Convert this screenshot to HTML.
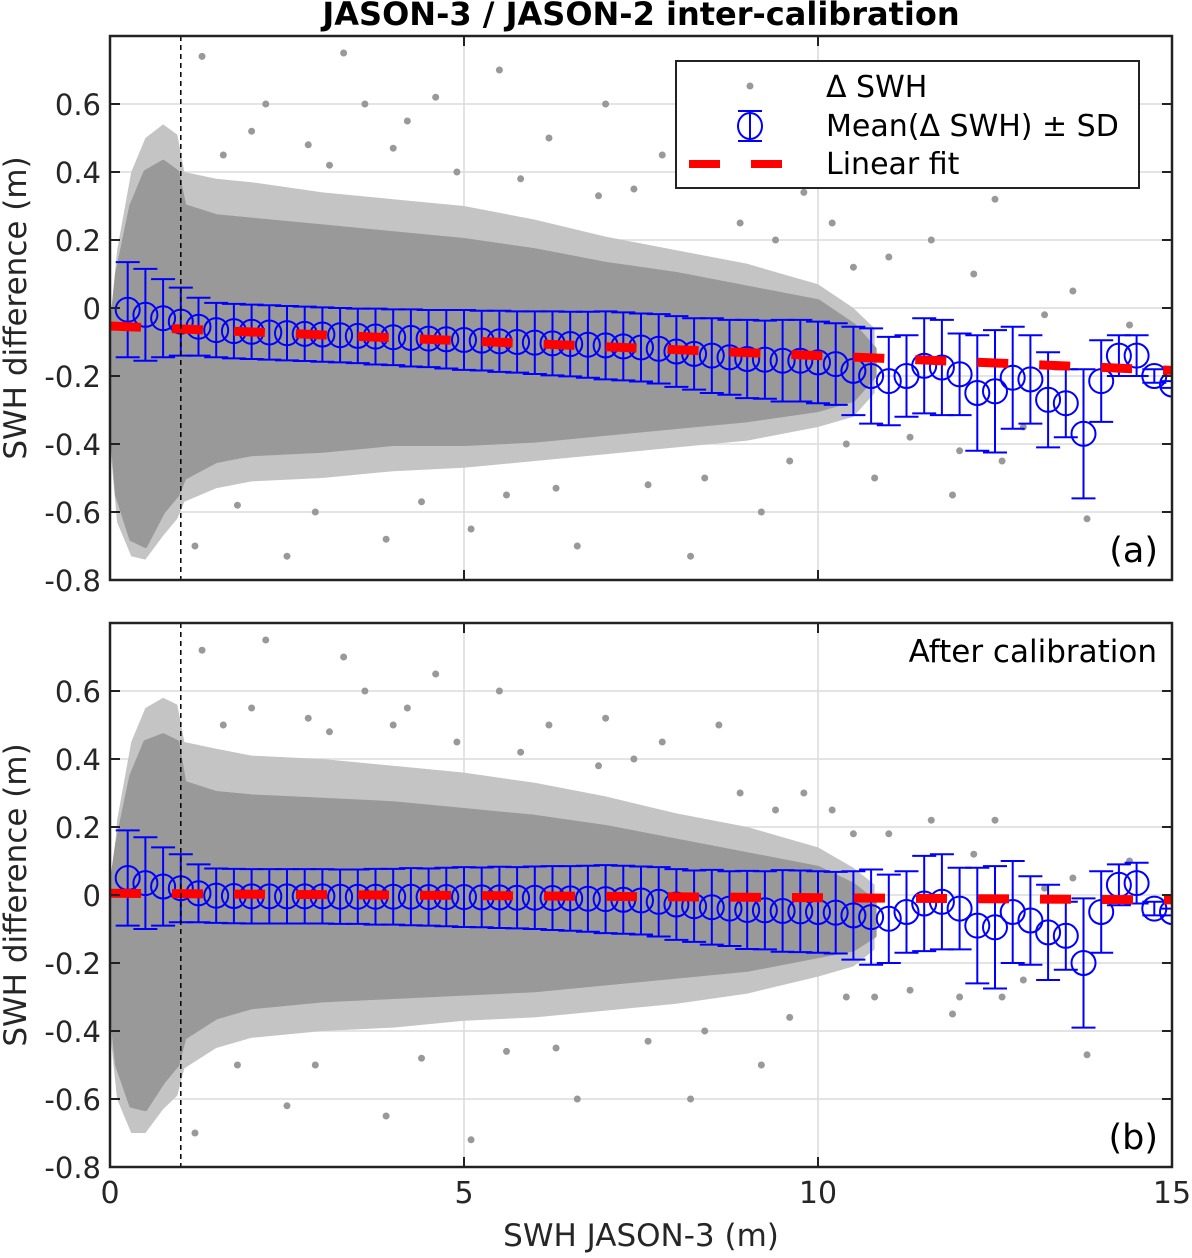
<!DOCTYPE html>
<html><head><meta charset="utf-8"><style>
html,body{margin:0;padding:0;background:#fff;}
svg text{font-family:"DejaVu Sans","Liberation Sans",sans-serif;}
</style></head><body>
<svg id="chart" width="1192" height="1253" viewBox="0 0 1192 1253" xmlns="http://www.w3.org/2000/svg">
<text x="641" y="25" text-anchor="middle" font-size="32" font-weight="bold" fill="#000">JASON-3 / JASON-2 inter-calibration</text>
</svg>
<script>
// ---- data ----
const binX = [0.25,0.5,0.75,1,1.25,1.5,1.75,2,2.25,2.5,2.75,3,3.25,3.5,3.75,4,4.25,4.5,4.75,5,5.25,5.5,5.75,6,6.25,6.5,6.75,7,7.25,7.5,7.75,8,8.25,8.5,8.75,9,9.25,9.5,9.75,10,10.25,10.5,10.75,11,11.25,11.5,11.75,12,12.25,12.5,12.75,13,13.25,13.5,13.75,14,14.25,14.5,14.75,15];
const meanA = [-0.005,-0.02,-0.03,-0.04,-0.055,-0.065,-0.068,-0.07,-0.072,-0.074,-0.076,-0.078,-0.08,-0.082,-0.084,-0.086,-0.088,-0.09,-0.092,-0.094,-0.096,-0.098,-0.1,-0.102,-0.104,-0.106,-0.108,-0.11,-0.113,-0.116,-0.12,-0.128,-0.135,-0.14,-0.145,-0.15,-0.152,-0.155,-0.155,-0.16,-0.165,-0.185,-0.2,-0.215,-0.2,-0.17,-0.175,-0.195,-0.25,-0.245,-0.205,-0.21,-0.27,-0.28,-0.37,-0.215,-0.14,-0.14,-0.2,-0.225];
const sdA = [0.14,0.135,0.115,0.1,0.085,0.08,0.08,0.08,0.08,0.08,0.08,0.08,0.08,0.08,0.082,0.082,0.084,0.084,0.086,0.088,0.088,0.09,0.09,0.092,0.094,0.095,0.097,0.1,0.1,0.1,0.102,0.104,0.105,0.11,0.11,0.115,0.115,0.12,0.12,0.12,0.12,0.13,0.14,0.13,0.12,0.14,0.14,0.12,0.17,0.18,0.15,0.13,0.14,0.1,0.19,0.12,0.06,0.06,0.02,0.01];
const meanB = [0.05,0.035,0.025,0.02,0.005,-0.002,-0.003,-0.004,-0.004,-0.004,-0.004,-0.004,-0.005,-0.005,-0.005,-0.005,-0.005,-0.006,-0.006,-0.006,-0.007,-0.007,-0.008,-0.008,-0.009,-0.01,-0.011,-0.012,-0.014,-0.016,-0.02,-0.028,-0.033,-0.036,-0.04,-0.044,-0.045,-0.047,-0.048,-0.05,-0.052,-0.06,-0.065,-0.07,-0.05,-0.025,-0.02,-0.04,-0.09,-0.095,-0.05,-0.075,-0.11,-0.12,-0.2,-0.05,0.03,0.035,-0.04,-0.05];
const sdB = sdA;
const fitA = [-0.053,-0.0087];
const fitB = [0.005,-0.0013];
const envX = [0,0.1,0.3,0.5,0.75,0.95,1.05,1.5,2,3,4,5,6,7,8,9,10,10.5,10.8];
const denseUpA = [-0.1,0.1,0.3,0.4,0.43,0.4,0.3,0.27,0.26,0.24,0.22,0.2,0.17,0.13,0.1,0.06,0.02,-0.05,-0.12];
const denseLoA = [-0.3,-0.55,-0.68,-0.7,-0.6,-0.55,-0.5,-0.45,-0.43,-0.42,-0.4,-0.4,-0.39,-0.37,-0.35,-0.33,-0.3,-0.27,-0.2];
const sparseUpA = [-0.05,0.17,0.4,0.5,0.54,0.51,0.4,0.38,0.37,0.34,0.32,0.3,0.26,0.21,0.17,0.13,0.07,0.0,-0.06];
const sparseLoA = [-0.4,-0.63,-0.73,-0.74,-0.67,-0.62,-0.57,-0.53,-0.51,-0.5,-0.48,-0.47,-0.45,-0.43,-0.41,-0.39,-0.35,-0.32,-0.25];
const denseUpB = [0.0,0.15,0.35,0.45,0.47,0.45,0.33,0.3,0.29,0.28,0.27,0.25,0.23,0.2,0.16,0.12,0.08,0.03,-0.02];
const denseLoB = [-0.3,-0.5,-0.62,-0.63,-0.55,-0.5,-0.42,-0.36,-0.33,-0.31,-0.3,-0.29,-0.28,-0.26,-0.24,-0.22,-0.18,-0.16,-0.12];
const sparseUpB = [-0.05,0.22,0.45,0.55,0.58,0.56,0.45,0.43,0.41,0.4,0.38,0.36,0.33,0.29,0.24,0.2,0.14,0.08,0.03];
const sparseLoB = [-0.4,-0.6,-0.7,-0.7,-0.63,-0.59,-0.51,-0.45,-0.42,-0.4,-0.39,-0.37,-0.36,-0.34,-0.32,-0.29,-0.24,-0.21,-0.16];
const outX = [1.3,2.2,3.3,3.6,4.2,4.6,5.5,6.2,7,7.8,8.6,9.8,10.2,11,11.6,12.2,12.5,13.2,13.6,14.4,1.2,2.5,3.9,5.1,6.6,8.2,9.2,10.8,11.9,12.6,13.8,1.6,2.0,2.8,3.1,4.0,4.9,5.8,6.9,7.4,8.9,9.4,10.5,1.8,2.9,4.4,5.6,6.3,7.6,8.4,9.6,10.4,11.3,12.0,12.9];
const outYA = [0.74,0.6,0.75,0.6,0.55,0.62,0.7,0.5,0.6,0.45,0.68,0.34,0.25,0.15,0.2,0.1,0.32,-0.02,0.05,-0.05,-0.7,-0.73,-0.68,-0.65,-0.7,-0.73,-0.6,-0.5,-0.55,-0.45,-0.62,0.45,0.52,0.48,0.42,0.47,0.4,0.38,0.33,0.35,0.25,0.2,0.12,-0.58,-0.6,-0.57,-0.55,-0.53,-0.52,-0.5,-0.45,-0.4,-0.38,-0.42,-0.35];
const outYB = [0.72,0.75,0.7,0.6,0.55,0.65,0.6,0.5,0.52,0.45,0.5,0.3,0.25,0.18,0.22,0.12,0.22,0.02,0.05,0.1,-0.7,-0.62,-0.65,-0.72,-0.6,-0.6,-0.5,-0.3,-0.35,-0.3,-0.47,0.5,0.55,0.52,0.48,0.5,0.45,0.42,0.38,0.4,0.3,0.25,0.18,-0.5,-0.5,-0.48,-0.46,-0.45,-0.43,-0.4,-0.36,-0.3,-0.28,-0.3,-0.25];
const yTicks = [-0.8,-0.6,-0.4,-0.2,0,0.2,0.4,0.6];
const yTickLabels = ["-0.8","-0.6","-0.4","-0.2","0","0.2","0.4","0.6"];
const xTicks = [0,5,10,15];
const xTickLabels = ["0","5","10","15"];

const NS="http://www.w3.org/2000/svg";
const svg=document.getElementById('chart');
function el(tag,attrs,parent){const e=document.createElementNS(NS,tag);for(const k in attrs)e.setAttribute(k,attrs[k]);(parent||svg).appendChild(e);return e;}
const X0=110,X1=1172;
const sx=v=>X0+(v/15)*(X1-X0);

function panel(top,bottom,mean,sd,fit,dU,dL,sU,sL,outY,tag,label,extra){
  const ymin=-0.8,ymax=0.8;
  const sy=v=>bottom-(v-ymin)/(ymax-ymin)*(bottom-top);
  const g=el('g',{});
  
  
  el('rect',{x:X0,y:top,width:X1-X0,height:bottom-top,fill:'#fff'},g);
  yTicks.forEach(t=>{if(t>ymin){const l=el('line',{x1:X0,x2:X1,y1:sy(t),y2:sy(t),stroke:'#dcdcdc','stroke-width':1.5},g);}});
  xTicks.forEach(t=>{if(t>0&&t<15){const l=el('line',{x1:sx(t),x2:sx(t),y1:top,y2:bottom,stroke:'#dcdcdc','stroke-width':1.5},g);}});
  const clip='clip'+tag;
  const cp=el('clipPath',{id:clip},g);el('rect',{x:X0,y:top,width:X1-X0,height:bottom-top},cp);
  const cg=el('g',{'clip-path':'url(#'+clip+')'},g);
  let ps=envX.map((x,i)=>sx(x)+','+sy(sU[i])).concat(envX.map((x,i)=>sx(x)+','+sy(sL[i])).reverse());
  const halo=el('polygon',{points:ps.join(' '),fill:'#c4c4c4'},cg);
  
  let pd=envX.map((x,i)=>sx(x)+','+sy(dU[i])).concat(envX.map((x,i)=>sx(x)+','+sy(dL[i])).reverse());
  const dense=el('polygon',{points:pd.join(' '),fill:'#999','stroke':'#999','stroke-width':4,'stroke-linejoin':'round'},cg);
  
  outX.forEach((x,i)=>{const c=el('circle',{cx:sx(x),cy:sy(outY[i]),r:3.5,fill:'#999'},cg);
    });
  const vl=el('line',{x1:sx(1),x2:sx(1),y1:top,y2:bottom,stroke:'#000','stroke-width':1.5,'stroke-dasharray':'5,4'},g);
  
  binX.forEach((x,i)=>{
    const eg=el('g',{stroke:'#0000ff','stroke-width':2,fill:'none'},cg);
    
    const cx=sx(x),yu=sy(mean[i]+sd[i]),yl=sy(mean[i]-sd[i]);
    el('line',{x1:cx,x2:cx,y1:yu,y2:yl},eg);
    el('line',{x1:cx-12,x2:cx+12,y1:yu,y2:yu},eg);
    el('line',{x1:cx-12,x2:cx+12,y1:yl,y2:yl},eg);
    el('circle',{cx:cx,cy:sy(mean[i]),r:12},eg);
  });
  const fl=el('line',{x1:sx(0),x2:sx(15),y1:sy(fit[0]),y2:sy(fit[0]+fit[1]*15),stroke:'#ff0000','stroke-width':9,'stroke-dasharray':'31,31'},cg);
  
  el('rect',{x:X0,y:top,width:X1-X0,height:bottom-top,fill:'none',stroke:'#222','stroke-width':2.5},g);
  yTicks.forEach((t,i)=>{
    el('line',{x1:X0,x2:X0+10,y1:sy(t),y2:sy(t),stroke:'#222','stroke-width':2},g);
    el('line',{x1:X1-10,x2:X1,y1:sy(t),y2:sy(t),stroke:'#222','stroke-width':2},g);
    const tx=el('text',{x:101,y:sy(t)+11,'text-anchor':'end','font-size':29,fill:'#262626'},g);
    tx.textContent=yTickLabels[i];
    
  });
  xTicks.forEach(t=>{el('line',{x1:sx(t),x2:sx(t),y1:bottom,y2:bottom-10,stroke:'#222','stroke-width':2},g);
    el('line',{x1:sx(t),x2:sx(t),y1:top,y2:top+10,stroke:'#222','stroke-width':2},g);});
  const yl=el('text',{transform:'translate(26,'+((top+bottom)/2)+') rotate(-90)','text-anchor':'middle','font-size':31,fill:'#262626'},g);
  yl.textContent='SWH difference (m)';
  
  const pl=el('text',{x:1158,y:bottom-18,'text-anchor':'end','font-size':35,fill:'#000'},g);
  pl.textContent=label;
  if(extra){const t=el('text',{x:1157,y:top+39,'text-anchor':'end','font-size':31,fill:'#000'},g);
    t.textContent=extra;}
}
panel(36,580,meanA,sdA,fitA,denseUpA,denseLoA,sparseUpA,sparseLoA,outYA,'a','(a)',null);
panel(623,1167,meanB,sdB,fitB,denseUpB,denseLoB,sparseUpB,sparseLoB,outYB,'b','(b)','After calibration');
xTicks.forEach((t,i)=>{const tx=el('text',{x:sx(t),y:1203,'text-anchor':'middle','font-size':30,fill:'#262626'});
  tx.textContent=xTickLabels[i];});
const xl=el('text',{x:641,y:1246,'text-anchor':'middle','font-size':31,fill:'#262626'});
xl.textContent='SWH JASON-3 (m)';
const lg=el('g',{});


el('rect',{x:676,y:61,width:463,height:127,fill:'#fff',stroke:'#222','stroke-width':2},lg);
el('circle',{cx:750,cy:86,r:3.5,fill:'#999'},lg);
const lb=el('g',{stroke:'#0000ff','stroke-width':2,fill:'none'},lg);
el('line',{x1:750,x2:750,y1:111,y2:141},lb);el('line',{x1:738,x2:762,y1:111,y2:111},lb);el('line',{x1:738,x2:762,y1:141,y2:141},lb);
el('ellipse',{cx:750,cy:126,rx:12,ry:13},lb);
el('line',{x1:689,x2:808,y1:164,y2:164,stroke:'#ff0000','stroke-width':8,'stroke-dasharray':'31,31'},lg);
[['Δ SWH',97],['Mean(Δ SWH) ± SD',136],['Linear fit',174]].forEach(([s,y])=>{
  const t=el('text',{x:826,y:y,'font-size':30,fill:'#000'},lg);t.textContent=s;
  });
</script>
</body></html>
